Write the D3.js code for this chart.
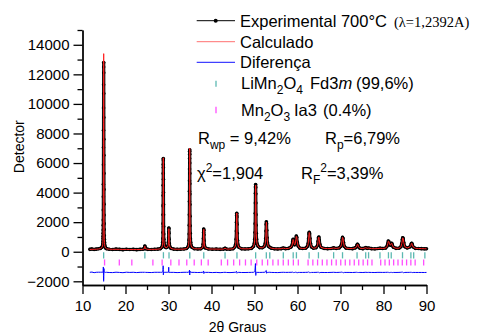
<!DOCTYPE html>
<html lang="pt">

<head>
    <meta charset="UTF-8" />
    <script src="https://d3js.org/d3.v7.min.js"></script>
    <title>Refinamento Rietveld LiMn2O4</title>
    <style>
        body { margin: 0; background: #fff; }
        text { font-family: "Liberation Sans", Arial, sans-serif; fill: #000; }
    </style>
</head>

<body>
    <script>
        // tick labels
        var xTicks = [10, 20, 30, 40, 50, 60, 70, 80, 90];
        var xMinor = [15, 25, 35, 45, 55, 65, 75, 85];
        var yTicks = [-2000, 0, 2000, 4000, 6000, 8000, 10000, 12000, 14000];
        var yMinor = [-1000, 1000, 3000, 5000, 7000, 9000, 11000, 13000, 15000];

        // reflection positions (2theta)
        var spinelRefl = [14.92, 24.50, 28.82, 30.12, 34.95, 38.20, 43.15, 45.92, 50.27, 52.75, 53.55, 56.70,
            59.00, 59.75, 62.70, 64.87, 68.40, 70.47, 73.85, 75.86, 76.53, 79.18, 81.15, 81.80, 84.42,
            86.37, 87.02, 89.62];
        var bixbyiteRefl = [15.13, 18.56, 21.47, 26.37, 28.52, 30.54, 32.44, 34.25, 35.98, 37.64, 39.23,
            42.28, 43.74, 45.16, 46.54, 47.90, 49.22, 50.52, 51.80, 53.05, 54.28, 55.50, 56.69, 57.87,
            59.04, 60.19, 62.46, 63.57, 64.67, 65.77, 66.85, 67.93, 69.00, 70.06, 71.11, 72.16, 73.20,
            74.24, 75.27, 76.30, 77.32, 79.35, 80.35, 81.36, 82.36, 83.37, 84.37, 85.37, 86.36, 87.36, 89.34];

        // [2theta, Iobs, Icalc]
        var pattern = [
            [11.70, 160, 150], [12.20, 190, 165], [12.70, 150, 165], [13.20, 180, 170], [13.70, 200, 185],
            [14.20, 230, 215], [14.50, 300, 285], [14.65, 380, 370],
            [14.72, 520, 500], [14.76, 700, 680], [14.78, 900, 860], [14.79, 1050, 1000], [14.80, 1250, 1150],
            [14.81, 1470, 1350], [14.82, 1800, 1600], [14.83, 2140, 1900], [14.84, 2820, 2480], [14.85, 3720, 3350],
            [14.86, 4570, 4400], [14.87, 5880, 5800], [14.88, 7050, 7250], [14.89, 8220, 8750], [14.90, 9730, 10300],
            [14.91, 11300, 11900], [14.92, 12500, 13100], [14.93, 12800, 13400], [14.94, 12100, 12650],
            [14.95, 10700, 11150], [14.96, 9080, 9350], [14.97, 7610, 7650], [14.98, 6530, 6300], [14.99, 5300, 5050],
            [15.00, 4210, 3950], [15.01, 3220, 3050], [15.02, 2480, 2350], [15.03, 1900, 1820], [15.04, 1500, 1440],
            [15.06, 1100, 1060], [15.08, 850, 830], [15.11, 650, 640], [15.15, 480, 470], [15.22, 360, 350],
            [15.35, 260, 255], [15.60, 210, 200],
            [16.2, 170, 175], [17.0, 150, 160], [17.8, 180, 165], [18.6, 160, 160], [19.4, 140, 155], [20.2, 170, 155],
            [21.0, 150, 150], [21.8, 160, 150], [22.6, 140, 150], [23.4, 160, 152], [24.0, 170, 160],
            [24.35, 210, 200], [24.45, 300, 290], [24.50, 380, 370], [24.55, 310, 300], [24.65, 210, 205],
            [25.2, 160, 160], [26.0, 150, 158], [26.8, 170, 160], [27.5, 180, 170], [28.1, 210, 200], [28.45, 300, 290],
            [28.60, 450, 430], [28.65, 650, 620], [28.68, 900, 860], [28.70, 1300, 1200], [28.72, 1900, 1700],
            [28.73, 2500, 2200], [28.74, 3100, 2750], [28.75, 3800, 3350], [28.76, 4500, 4050], [28.77, 5300, 4900],
            [28.78, 5900, 5700], [28.79, 6300, 6250], [28.80, 6200, 6350], [28.81, 5700, 5870], [28.82, 4900, 5050],
            [28.83, 4000, 4100], [28.84, 3200, 3250], [28.85, 2500, 2500], [28.87, 1700, 1700], [28.89, 1200, 1180],
            [28.92, 850, 820], [28.97, 600, 590], [29.05, 430, 420], [29.20, 320, 310], [29.45, 280, 270],
            [29.75, 320, 310], [29.90, 420, 400], [29.98, 650, 600], [30.02, 950, 800], [30.05, 1350, 1000],
            [30.07, 1600, 1400], [30.09, 1550, 1560], [30.11, 1250, 1280], [30.14, 850, 860], [30.19, 550, 560],
            [30.30, 350, 345], [30.55, 230, 225],
            [31.2, 180, 175], [32.0, 160, 170], [32.8, 170, 172], [33.6, 190, 180], [34.2, 220, 210], [34.55, 330, 320],
            [34.70, 520, 500], [34.76, 800, 760], [34.80, 1200, 1150], [34.83, 1800, 1700], [34.85, 2500, 2400],
            [34.87, 3400, 3250], [34.88, 4100, 3950], [34.89, 4800, 4750], [34.90, 5600, 5650], [34.91, 6300, 6400],
            [34.92, 6800, 6950], [34.93, 6900, 7000], [34.94, 6600, 6750], [34.95, 6000, 6100], [34.96, 5300, 5350],
            [34.97, 4600, 4550], [34.98, 3900, 3800], [34.99, 3200, 3100], [35.01, 2400, 2350], [35.03, 1750, 1700],
            [35.06, 1250, 1230], [35.10, 880, 870], [35.16, 620, 610], [35.25, 440, 430], [35.45, 300, 295],
            [36.0, 210, 205], [36.8, 190, 195], [37.5, 200, 200], [37.95, 300, 290],
            [38.05, 500, 480], [38.12, 900, 850], [38.16, 1300, 1200], [38.19, 1530, 1480], [38.22, 1450, 1520],
            [38.25, 1150, 1220], [38.29, 750, 760], [38.36, 450, 450], [38.55, 260, 255],
            [39.3, 190, 185], [40.2, 170, 180], [41.1, 180, 178], [42.0, 160, 175], [42.8, 180, 178], [43.15, 240, 230],
            [43.5, 180, 182], [44.3, 170, 180], [45.0, 200, 200], [45.45, 330, 320],
            [45.62, 500, 490], [45.72, 850, 820], [45.78, 1400, 1330], [45.82, 2000, 1930], [45.85, 2450, 2450],
            [45.88, 2600, 2620], [45.91, 2350, 2400], [45.94, 1850, 1900], [45.98, 1250, 1280], [46.04, 780, 790],
            [46.14, 480, 475], [46.35, 300, 295],
            [47.0, 200, 205], [47.8, 190, 195], [48.6, 200, 200], [49.3, 230, 225], [49.75, 360, 350],
            [49.95, 550, 530], [50.05, 850, 800], [50.11, 1300, 1150], [50.15, 1900, 1600], [50.18, 2600, 2150],
            [50.20, 3300, 2750], [50.22, 3950, 3350], [50.24, 4400, 3950], [50.26, 4550, 4450], [50.28, 4350, 4500],
            [50.30, 3900, 4100], [50.32, 3300, 3450], [50.35, 2500, 2550], [50.38, 1800, 1820], [50.42, 1250, 1240],
            [50.48, 850, 840], [50.58, 560, 555], [50.80, 380, 375], [51.2, 280, 280], [51.8, 270, 265],
            [52.25, 350, 340], [52.50, 560, 540], [52.60, 900, 850], [52.67, 1400, 1280], [52.72, 1850, 1720],
            [52.76, 2030, 2000], [52.80, 1900, 1950], [52.85, 1450, 1500], [52.92, 950, 960], [53.02, 600, 600],
            [53.20, 380, 375], [53.55, 300, 290], [53.9, 240, 240],
            [54.6, 200, 205], [55.4, 190, 200], [56.2, 210, 205], [56.7, 250, 240], [57.2, 210, 208], [57.9, 230, 225],
            [58.5, 320, 310], [58.75, 450, 440], [58.88, 700, 680], [58.98, 840, 830], [59.08, 760, 770],
            [59.20, 560, 570], [59.35, 470, 470], [59.50, 560, 550], [59.62, 850, 830], [59.72, 1060, 1040],
            [59.82, 980, 1000], [59.95, 650, 670], [60.15, 380, 380], [60.5, 250, 250],
            [61.2, 220, 220], [61.9, 240, 235], [62.3, 360, 350], [62.48, 550, 540], [62.58, 900, 860],
            [62.66, 1200, 1160], [62.73, 1310, 1300], [62.81, 1220, 1240], [62.90, 900, 920], [63.02, 560, 570],
            [63.25, 320, 320], [63.7, 240, 240], [64.3, 270, 265],
            [64.65, 420, 410], [64.78, 700, 680], [64.88, 950, 940], [64.97, 990, 990], [65.07, 800, 820],
            [65.20, 500, 510], [65.45, 300, 300],
            [66.2, 220, 225], [67.0, 210, 215], [67.8, 220, 218], [68.4, 260, 250], [69.0, 220, 222], [69.7, 260, 255],
            [70.05, 360, 350], [70.25, 520, 500], [70.38, 820, 790], [70.48, 970, 970], [70.58, 900, 920],
            [70.70, 620, 640], [70.88, 360, 360], [71.3, 240, 240],
            [72.0, 220, 220], [72.8, 210, 215], [73.4, 260, 255], [73.72, 330, 320], [73.85, 450, 440],
            [73.95, 510, 510], [74.06, 460, 470], [74.20, 330, 335], [74.5, 240, 240],
            [75.2, 210, 215], [75.9, 280, 270], [76.2, 230, 230], [76.55, 250, 245], [77.2, 210, 212], [78.0, 200, 205],
            [78.7, 220, 215], [79.2, 240, 235], [79.8, 220, 220], [80.5, 250, 245], [80.85, 380, 370],
            [81.00, 560, 550], [81.12, 720, 710], [81.25, 680, 690], [81.40, 500, 510], [81.60, 440, 440],
            [81.80, 560, 550], [81.92, 570, 575], [82.05, 460, 470], [82.30, 300, 300],
            [82.9, 230, 232], [83.6, 240, 238], [84.05, 340, 330], [84.25, 560, 540], [84.38, 820, 790],
            [84.48, 950, 940], [84.58, 880, 900], [84.72, 600, 620], [84.95, 340, 340], [85.5, 260, 258],
            [86.1, 320, 315], [86.35, 420, 410], [86.48, 550, 540], [86.58, 570, 575], [86.70, 470, 480],
            [86.90, 320, 320], [87.4, 230, 232], [88.1, 220, 222], [88.8, 210, 212], [89.5, 200, 205], [90.0, 200, 200]
        ];

        var diffOffset = -1400;
        var spinelRow = [-30, -450], bixbyiteRow = [-520, -930];

        var width = 479, height = 335;

        var svg = d3.select("body").append("svg")
            .attr("width", width)
            .attr("height", height)
            .style("background", "#fff");

        var x = d3.scaleLinear().domain([10, 90]).range([82.5, 426.5]);
        var y = d3.scaleLinear().domain([-2250, 15000]).range([285, 30]);

        // axes
        function styleAxis(g) {
            g.attr("font-family", null).attr("font-size", null);
            g.selectAll("path, line").attr("stroke", "#000").attr("stroke-width", 1.3);
            g.selectAll("text").style("font-size", "15px");
        }

        svg.append("g").attr("transform", "translate(0,285)")
            .call(d3.axisBottom(x).tickValues(xMinor).tickSize(5).tickSizeOuter(0).tickFormat(""))
            .call(styleAxis);
        svg.append("g").attr("transform", "translate(0,285)")
            .call(d3.axisBottom(x).tickValues(xTicks).tickSize(9).tickSizeOuter(0).tickPadding(6))
            .call(styleAxis);
        svg.append("g").attr("transform", "translate(82.5,0)")
            .call(d3.axisLeft(y).tickValues(yMinor).tickSize(5).tickSizeOuter(0).tickFormat(""))
            .call(styleAxis);
        svg.append("g").attr("transform", "translate(82.5,0)")
            .call(d3.axisLeft(y).tickValues(yTicks).tickSize(9).tickSizeOuter(0).tickPadding(4).tickFormat(d3.format("d")))
            .call(styleAxis);

        svg.append("text").attr("transform", "translate(23.5,146.7) rotate(-90)")
            .attr("text-anchor", "middle").style("font-size", "14px").text("Detector");
        svg.append("text").attr("x", 237.5).attr("y", 332)
            .attr("text-anchor", "middle").style("font-size", "14px")
            .text("2θ Graus");

        // reflection markers
        svg.append("g").selectAll("line").data(spinelRefl).enter().append("line")
            .attr("x1", d => x(d)).attr("x2", d => x(d))
            .attr("y1", y(spinelRow[0])).attr("y2", y(spinelRow[1]))
            .attr("stroke", "#5cb8b2").attr("stroke-width", 1.3);
        svg.append("g").selectAll("line").data(bixbyiteRefl).enter().append("line")
            .attr("x1", d => x(d)).attr("x2", d => x(d))
            .attr("y1", y(bixbyiteRow[0])).attr("y2", y(bixbyiteRow[1]))
            .attr("stroke", "#ff4dff").attr("stroke-width", 1.3);

        // difference
        var diffLine = d3.line().x(d => x(d[0])).y(d => y(d[1] - d[2] + diffOffset));
        svg.append("path").datum(pattern).attr("d", diffLine)
            .attr("fill", "none").attr("stroke", "#0000ff").attr("stroke-width", 1);

        // observed
        var obsLine = d3.line().x(d => x(d[0])).y(d => y(d[1]));
        svg.append("path").datum(pattern).attr("d", obsLine)
            .attr("fill", "none").attr("stroke", "#111").attr("stroke-width", 3.2)
            .attr("stroke-linejoin", "round");
        svg.append("g").selectAll("circle").data(pattern).enter().append("circle")
            .attr("cx", d => x(d[0])).attr("cy", d => y(d[1])).attr("r", 1.8)
            .attr("fill", "#000");

        // calculated
        var calcLine = d3.line().x(d => x(d[0])).y(d => y(d[2]));
        svg.append("path").datum(pattern).attr("d", calcLine)
            .attr("fill", "none").attr("stroke", "#ff2020").attr("stroke-width", 1);

        // legend
        var leg = svg.append("g");
        leg.append("line").attr("x1", 196.7).attr("x2", 235).attr("y1", 20.7).attr("y2", 20.7)
            .attr("stroke", "#000").attr("stroke-width", 1);
        leg.append("circle").attr("cx", 215.7).attr("cy", 20.7).attr("r", 2).attr("fill", "#000");
        leg.append("line").attr("x1", 196.7).attr("x2", 235).attr("y1", 41.7).attr("y2", 41.7)
            .attr("stroke", "#ff7070").attr("stroke-width", 1);
        leg.append("line").attr("x1", 196.7).attr("x2", 235).attr("y1", 62.3).attr("y2", 62.3)
            .attr("stroke", "#4040ff").attr("stroke-width", 1.3);
        leg.append("line").attr("x1", 216).attr("x2", 216).attr("y1", 80.7).attr("y2", 86.7)
            .attr("stroke", "#5cb8b2").attr("stroke-width", 1.3);
        leg.append("line").attr("x1", 216).attr("x2", 216).attr("y1", 106.7).attr("y2", 113.3)
            .attr("stroke", "#ff4dff").attr("stroke-width", 1.3);

        // text with sub/superscripts: parts are [text, kind, x]
        function rich(px, py, parts) {
            var t = leg.append("text").attr("x", px).attr("y", py).style("font-size", "16.5px");
            var shift = 0;
            parts.forEach(function (p) {
                var target = p[1] == "sub" ? 5 : p[1] == "sup" ? -7 : 0;
                var s = t.append("tspan").attr("dy", target - shift).text(p[0]);
                shift = target;
                if (p[1] == "sub" || p[1] == "sup") s.style("font-size", "12px");
                if (p[1] == "it") s.style("font-style", "italic");
                if (p[1] == "serif") s.style("font-family", "'Liberation Serif', 'Times New Roman', serif").style("font-size", "14.5px");
                if (p[2] != null) s.attr("x", p[2]);
            });
            return t;
        }

        rich(240, 26.7, [["Experimental 700°C"], ["(λ=1,2392A)", "serif", 394]]);
        rich(240, 47.7, [["Calculado"]]);
        rich(240, 68.3, [["Diferença"]]);
        rich(241, 88.5, [["LiMn"], ["2", "sub"], ["O"], ["4", "sub"], ["Fd3", "n", 310], ["m", "it"], ["(99,6%)", "n", 356]]);
        rich(241, 116, [["Mn"], ["2", "sub"], ["O"], ["3", "sub"], ["Ia3", "n", 294], ["(0.4%)", "n", 323]]);
        rich(198, 144, [["R"], ["wp", "sub"], [" = 9,42%"], ["R", "n", 325], ["p", "sub"], ["=6,79%"]]);
        rich(197, 179, [["χ"], ["2", "sup"], ["=1,904"], ["R", "n", 301], ["F", "sub"], ["2", "sup"], ["=3,39%"]]);
    </script>
</body>

</html>
